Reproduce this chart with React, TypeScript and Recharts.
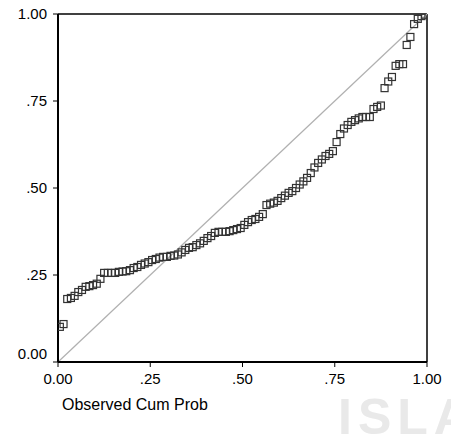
import React from 'react';
import {
  ScatterChart,
  Scatter,
  XAxis,
  YAxis,
  ReferenceLine,
} from 'recharts';

// P-P plot: observed cumulative probability vs expected
const observed = [
  0.005, 0.015, 0.025, 0.035, 0.045, 0.055, 0.065, 0.075, 0.085, 0.095,
  0.105, 0.115, 0.125, 0.135, 0.145, 0.155, 0.165, 0.175, 0.185, 0.195,
  0.205, 0.215, 0.225, 0.235, 0.245, 0.255, 0.265, 0.275, 0.285, 0.295,
  0.305, 0.315, 0.325, 0.335, 0.345, 0.355, 0.365, 0.375, 0.385, 0.395,
  0.405, 0.415, 0.425, 0.435, 0.445, 0.455, 0.465, 0.475, 0.485, 0.495,
  0.505, 0.515, 0.525, 0.535, 0.545, 0.555, 0.565, 0.575, 0.585, 0.595,
  0.605, 0.615, 0.625, 0.635, 0.645, 0.655, 0.665, 0.675, 0.685, 0.695,
  0.705, 0.715, 0.725, 0.735, 0.745, 0.755, 0.765, 0.775, 0.785, 0.795,
  0.805, 0.815, 0.825, 0.835, 0.845, 0.855, 0.865, 0.875, 0.885, 0.895,
  0.905, 0.915, 0.925, 0.935, 0.945, 0.955, 0.965, 0.975, 0.985, 0.995,
];

const expected = [
  0.101, 0.109, 0.181, 0.184, 0.19, 0.201, 0.207, 0.216, 0.218, 0.221,
  0.225, 0.239, 0.256, 0.256, 0.256, 0.256, 0.259, 0.26, 0.261, 0.264,
  0.27, 0.273, 0.279, 0.283, 0.287, 0.293, 0.296, 0.3, 0.302, 0.302,
  0.305, 0.306, 0.309, 0.315, 0.322, 0.328, 0.33, 0.336, 0.341, 0.348,
  0.356, 0.362, 0.371, 0.374, 0.374, 0.374, 0.376, 0.379, 0.382, 0.385,
  0.394, 0.402, 0.408, 0.411, 0.417, 0.425, 0.451, 0.455, 0.458, 0.463,
  0.471, 0.478, 0.486, 0.491, 0.5, 0.51, 0.519, 0.529, 0.543, 0.559,
  0.572, 0.582, 0.592, 0.598, 0.606, 0.632, 0.655, 0.671, 0.681, 0.69,
  0.695, 0.7, 0.704, 0.704, 0.704, 0.727, 0.733, 0.737, 0.787, 0.806,
  0.819, 0.851, 0.856, 0.856, 0.911, 0.934, 0.971, 0.986, 0.994, 0.998,
];

const ticks = [0, 0.25, 0.5, 0.75, 1];
const tickLabels = ['0.00', '.25', '.50', '.75', '1.00'];

const points = observed.map((x, i) => ({ x, y: expected[i] }));

const fmt = (v: number) => tickLabels[ticks.indexOf(v)] ?? String(v);

const FONT = 'Arial, "Liberation Sans", sans-serif';

const Square = (props: { cx?: number; cy?: number }) => {
  const { cx = 0, cy = 0 } = props;
  return (
    <rect
      x={cx - 3.5}
      y={cy - 3.5}
      width={7}
      height={7}
      fill="none"
      stroke="#333"
      strokeWidth={1.2}
    />
  );
};

const YTick = (props: any) => {
  const { x, y, payload } = props;
  const shift = payload.value === 0 ? -8 : 0;
  return (
    <text
      x={x}
      y={y + shift}
      dy="0.35em"
      textAnchor="end"
      fill="#000"
      fontSize={15}
      fontFamily={FONT}
    >
      {fmt(payload.value)}
    </text>
  );
};

export default function App() {
  return (
    <div
      style={{
        position: 'absolute',
        left: 0,
        top: 0,
        width: 451,
        height: 446,
        background: '#fff',
        overflow: 'hidden',
      }}
    >
      {/* faint watermark behind the chart */}
      <div
        style={{
          position: 'absolute',
          left: 338,
          top: 392,
          fontFamily: FONT,
          fontSize: 50,
          fontWeight: 'bold',
          color: '#e9e9e9',
          letterSpacing: 6,
          whiteSpace: 'nowrap',
          lineHeight: 1,
        }}
      >
        ISLA
      </div>
      <div style={{ position: 'absolute', left: 0, top: 0 }}>
        <ScatterChart
          width={451}
          height={446}
          margin={{ top: 14, right: 24, bottom: 54, left: 0 }}
        >
          <XAxis
            type="number"
            dataKey="x"
            domain={[0, 1]}
            ticks={ticks}
            tickFormatter={fmt}
            height={30}
            tickSize={5}
            tickMargin={6}
            axisLine={{ stroke: '#000', strokeWidth: 2 }}
            tickLine={{ stroke: '#000' }}
            tick={{ fill: '#000', fontSize: 15, fontFamily: FONT }}
            allowDataOverflow
          />
          <YAxis
            type="number"
            dataKey="y"
            domain={[0, 1]}
            ticks={ticks}
            width={58}
            tickSize={5}
            tickMargin={6}
            axisLine={{ stroke: '#000', strokeWidth: 2 }}
            tickLine={{ stroke: '#000' }}
            tick={<YTick />}
            allowDataOverflow
          />
          <ReferenceLine y={1} stroke="#000" strokeWidth={1.5} />
          <ReferenceLine x={1} stroke="#000" strokeWidth={1.5} />
          <ReferenceLine
            segment={[
              { x: 0, y: 0 },
              { x: 1, y: 1 },
            ]}
            stroke="#b0b0b0"
            strokeWidth={1.2}
          />
          <Scatter data={points} shape={<Square />} isAnimationActive={false} />
        </ScatterChart>
      </div>
      <div
        style={{
          position: 'absolute',
          left: 62,
          top: 396,
          fontFamily: FONT,
          fontSize: 16,
          color: '#000',
          whiteSpace: 'nowrap',
        }}
      >
        Observed Cum Prob
      </div>
    </div>
  );
}
